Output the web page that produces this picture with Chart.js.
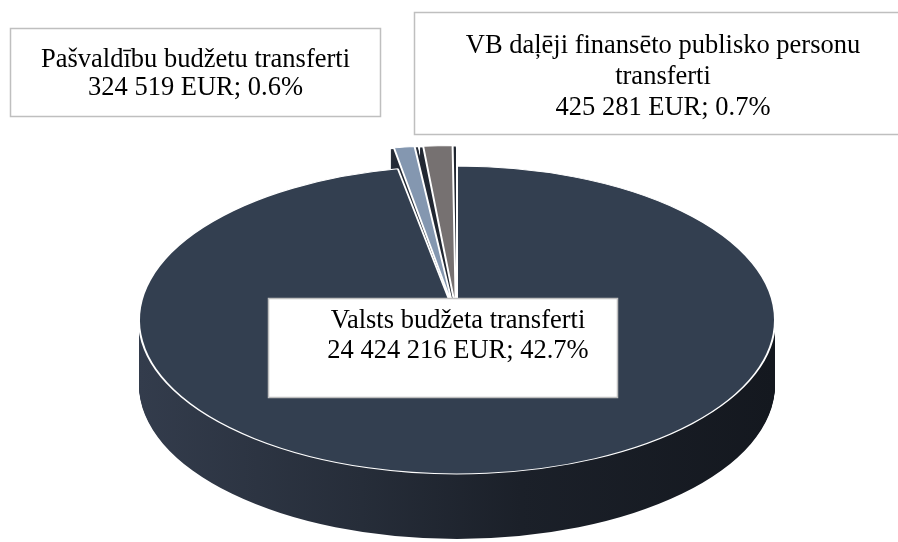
<!DOCTYPE html>
<html>
<head>
<meta charset="utf-8">
<script src="https://cdn.jsdelivr.net/npm/chart.js@4.4.1/dist/chart.umd.min.js"></script>
<style>
  html, body { margin: 0; padding: 0; background: #ffffff; }
  #wrap { width: 898px; height: 542px; position: relative; }
</style>
</head>
<body>
<div id="wrap"><canvas id="c" width="898" height="542"></canvas></div>
<script>
// ---- data ----
const categories = [
  'Valsts budžeta transferti',
  'Pašvaldību budžetu transferti',
  'VB daļēji finansēto publisko personu transferti'
];
const valuesEUR = [24424216, 324519, 425281];
const sharesPct = ['42.7%', '0.6%', '0.7%'];
const explode = [0, 90, 90];

// ---- style ----
const topColors = ['#333F50', '#8497B0', '#767171'];
const FONT = '26.5px "Liberation Serif", "Times New Roman", serif';
const TILT = 0.484;   // vertical squash of the pie top
const DEPTH = 65;     // thickness of the pie in px
const labelBoxes = [
  { x: 268, y: 298, w: 350, h: 100, cx: 458,   base: 328, lh: 30, wrap: 340 },
  { x: 10,  y: 28,  w: 371, h: 89,  cx: 195.5, base: 67,  lh: 28, wrap: 360 },
  { x: 414, y: 12,  w: 486, h: 123, cx: 663,   base: 53,  lh: 31, wrap: 420 }
];

function fmt(v) { return String(v).replace(/\B(?=(\d{3})+(?!\d))/g, ' '); }

function arcGeom(arc) {
  const p = arc.getProps(['x', 'y', 'startAngle', 'endAngle', 'outerRadius', 'circumference'], true);
  const o = (arc.options.offset || 0) / 4;
  const half = (p.startAngle + p.endAngle) / 2;
  const circ = p.circumference || (p.endAngle - p.startAngle);
  const fix = 1 - Math.sin(Math.min(Math.PI, circ));
  return {
    cx: p.x + Math.cos(half) * o,
    cy: p.y + Math.sin(half) * o,
    r: p.outerRadius + o * fix,
    s: p.startAngle, e: p.endAngle, y0: p.y, x0: p.x, R: p.outerRadius
  };
}

const pie3d = {
  id: 'pie3d',
  beforeDatasetsDraw(chart) {
    const ctx = chart.ctx;
    const meta = chart.getDatasetMeta(0);
    if (!meta.data.length) return;
    const g0 = arcGeom(meta.data[0]);
    const cy = g0.y0;
    const grad = ctx.createLinearGradient(g0.x0 - g0.R, 0, g0.x0 + g0.R, 0);
    grad.addColorStop(0, '#333c4c');
    grad.addColorStop(0.35, '#262d39');
    grad.addColorStop(0.6, '#1b2029');
    grad.addColorStop(1, '#14181f');
    for (let d = DEPTH; d >= 1; d--) {
      ctx.save();
      ctx.translate(0, cy * (1 - TILT) + d);
      ctx.scale(1, TILT);
      ctx.fillStyle = grad;
      meta.data.forEach(arc => {
        const g = arcGeom(arc);
        ctx.beginPath();
        ctx.moveTo(g.cx, g.cy);
        ctx.arc(g.cx, g.cy, g.r, g.s, g.e);
        ctx.closePath();
        ctx.fill();
      });
      ctx.restore();
    }
    ctx.save();
    ctx.translate(0, cy * (1 - TILT));
    ctx.scale(1, TILT);
  },
  afterDatasetsDraw(chart) {
    chart.ctx.restore();
  },
  afterDraw(chart) {
    const ctx = chart.ctx;
    ctx.save();
    ctx.font = FONT;
    ctx.textAlign = 'center';
    ctx.textBaseline = 'alphabetic';
    categories.forEach((name, i) => {
      const b = labelBoxes[i];
      ctx.fillStyle = '#ffffff';
      ctx.fillRect(b.x, b.y, b.w, b.h);
      ctx.strokeStyle = '#bfbfbf';
      ctx.lineWidth = 1.5;
      ctx.strokeRect(b.x + 0.5, b.y + 0.5, b.w - 1, b.h - 1);
      const words = name.split(' ');
      const lines = [];
      let cur = '';
      words.forEach(w => {
        const t = cur ? cur + ' ' + w : w;
        if (ctx.measureText(t).width > b.wrap && cur) { lines.push(cur); cur = w; }
        else cur = t;
      });
      if (cur) lines.push(cur);
      lines.push(fmt(valuesEUR[i]) + ' EUR; ' + sharesPct[i]);
      ctx.fillStyle = '#000000';
      lines.forEach((ln, k) => ctx.fillText(ln, b.cx, b.base + k * b.lh));
    });
    ctx.restore();
  }
};

new Chart(document.getElementById('c'), {
  type: 'pie',
  data: {
    labels: categories,
    datasets: [{
      data: valuesEUR,
      backgroundColor: topColors,
      borderColor: '#ffffff',
      borderWidth: 2,
      offset: explode,
      clip: false
    }]
  },
  options: {
    responsive: false,
    animation: false,
    events: [],
    radius: 318,
    layout: { padding: { left: 16, right: 0, top: 98, bottom: 0 } },
    plugins: { legend: { display: false }, tooltip: { enabled: false }, title: { display: false } }
  },
  plugins: [pie3d]
});
</script>
</body>
</html>
